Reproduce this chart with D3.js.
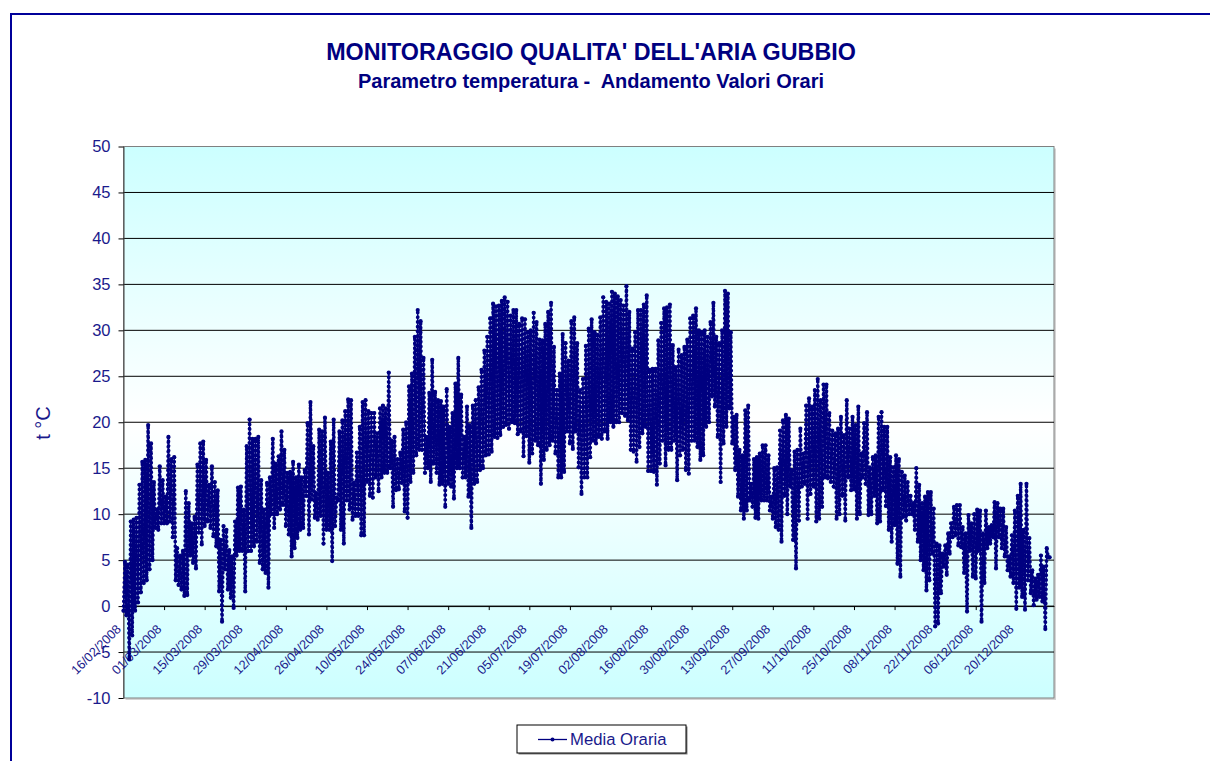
<!DOCTYPE html>
<html>
<head>
<meta charset="utf-8">
<script src="https://cdn.jsdelivr.net/npm/d3@7"></script>
<style>
  html, body { margin: 0; padding: 0; background: #fff; overflow: hidden; }
  text { font-family: "Liberation Sans", Arial, sans-serif; }
</style>
</head>
<body>
<svg id="grafico" width="1210" height="761"></svg>
<script>
const titolo = "MONITORAGGIO QUALITA' DELL'ARIA GUBBIO";
const sottotitolo = "Parametro temperatura -  Andamento Valori Orari";
const etichettaY = "t °C";
const nomeSerie = "Media Oraria";
const dataInizio = "16/02/2008";
const tickY = [-10, -5, 0, 5, 10, 15, 20, 25, 30, 35, 40, 45, 50];
const tickDate = ["16/02/2008", "01/03/2008", "15/03/2008", "29/03/2008", "12/04/2008", "26/04/2008",
  "10/05/2008", "24/05/2008", "07/06/2008", "21/06/2008", "05/07/2008", "19/07/2008", "02/08/2008",
  "16/08/2008", "30/08/2008", "13/09/2008", "27/09/2008", "11/10/2008", "25/10/2008", "08/11/2008",
  "22/11/2008", "06/12/2008", "20/12/2008"];

// massimi e minimi di ogni giorno (14 giorni per riga)
const massimi = [
  4.8,4.5,9.2,9.4,9.6,13.2,15.7,15.9,19.7,17.7,13.5,10.5,15.2,13.7,
  11.9,18.4,16,16.2,6.3,5.5,6,12.5,11.2,9,9.7,15.4,17.7,17.9,
  15.9,13.2,15.2,13.5,12.6,7.2,8.7,8.3,6.1,5.4,9.2,12.9,13,10.5,
  17.4,20.3,18.2,18.2,18.4,13.7,10.5,13.4,14,18.2,15.5,16.3,19,17,
  14.5,14.6,15.7,14,15.4,14,14.8,19.9,22.2,17.4,12.3,19.2,19,20.5,
  14.5,17.9,20.3,11.8,19,20.2,21.2,22.5,22.4,13.4,16.7,19.5,22.2,22.4,
  21.2,21,21,18.8,21.5,21.8,21.5,25.4,18,18.4,16,16.7,19.2,20,
  23.9,25.3,29.3,32.2,31,27,18.4,23.2,26.8,23.3,22.4,22.3,21.7,23.6,
  19.5,21,24.2,27,23,18.4,21.7,19.7,21.8,22.4,23.8,25.7,27.8,29.3,
  31.3,32.9,32.6,32.7,33.2,33.6,33.1,31.6,32.2,32.2,30.7,31.3,31.2,29.8,
  30,31.9,30.9,29,28.9,30.7,32,33,28.2,23.5,25.3,29.6,28.6,26.7,
  31,31.4,28.6,23.5,24.7,28.3,30.2,31.2,29.8,29.5,31.4,33.6,33.1,32.9,
  34.2,34,33.7,33.3,32.7,34.8,32,28,29.8,32.2,32.2,32.8,33.8,25.7,
  25.8,25.8,28.9,30.8,32.4,32.5,32.8,28.4,26,27.9,27.3,28.2,29,31.3,
  31.6,32.4,30,29.8,30,29.3,30.9,33,29.3,28.6,30,34.3,34,29.8,
  20.6,20.8,17,16.4,21.3,21.8,13.3,16,16.2,16.6,17.5,17.5,16.4,11.9,
  15,15.1,19.1,20.2,20.8,20.4,14.8,16.8,17,19.3,16.6,21.8,22.6,21.7,
  23.5,24.7,22.4,24.1,24.1,21,19.1,18.8,19.3,20.6,18.6,22.4,19.3,20.6,
  19.7,21.7,16.6,19.9,21.1,15.1,16.2,16.4,20.6,21.1,19.5,19.5,16.2,15.1,
  16.4,16,14.6,14.2,13.5,12,11.2,15,13.2,11.2,11.9,12.4,12.4,10.6,
  6.8,6.6,5.7,6.6,7.9,9,10.8,11,11,8.6,7.9,9.9,9,10,
  10.5,10.4,7.9,10.4,8.6,8.8,11.3,11.2,10.6,10.6,8.6,5.4,7.7,10.4,
  12,13.3,8.3,13.3,7.4,3.9,3,3.4,5.5,4.3,6.3,5.3
];
const minimi = [
  -0.5,-1,-5.8,-3.2,-0.5,0.4,1.5,2.5,2.8,4,5,8.5,8.3,9,
  9,9,9.2,7.5,2.8,2.3,1.8,1.1,1.2,5.5,4.7,4.1,8,6.7,
  8.7,9.2,8.5,7.6,6.5,1.6,-1.7,4,1.8,0.9,-0.2,5.5,6,6,
  1.6,6,6,6.5,7,4.7,4,3.6,2,10,8.5,10,10.5,11,
  8.7,7.8,5.4,6.3,7.4,8.3,8.5,12,7.8,11.6,9.6,9.4,9.8,6.8,
  8.3,8.3,4.9,8.7,11.5,8.3,6.8,11.5,10.5,9.4,9.8,9.8,7.7,7.7,
  13.5,12,11.8,14,12.5,14,14.5,14.5,15,10.8,12.6,12.7,13.4,10.3,
  9.6,13.5,14.5,16.4,17,17,14.5,15,13.5,15.5,14.5,13.2,13.3,10.8,
  13.3,13,11.7,15,15,14,14,11.9,8.5,13.3,13.5,14.8,15,16.4,
  16.5,16.8,18.4,18.3,18.6,19.5,19.7,19.3,20,19.9,18.7,19,16.3,18.5,
  15.6,16.6,18,17.5,13.3,15.9,17,17.5,18,16.6,14,14,14.6,19,
  17.7,17.1,19,15.1,12.2,14,14,16.2,18,17.7,18.4,18.2,19,18.2,
  20,19.5,20,20,21,20.7,20.2,17,16.8,15.7,17.3,18.8,19.5,14.7,
  14.7,14.6,13.2,15.5,18,15.3,17,17,18,13.7,16.4,17,14.8,14.4,
  18,18,17.3,15.9,16.4,19.5,20,22.8,21.7,18.4,13.5,17.7,19.5,21.5,
  17.7,14.8,11.9,10.4,9.5,10.4,11.5,10.8,9.6,9.5,11.5,11.5,11.5,10.4,
  9.5,8.6,8.3,7,12,10,13,7.2,4.1,9.3,13,13.3,9.5,12.2,
  13,9.2,9.5,10.8,14,13.9,13.5,13,9.5,10,12,9.3,14,12.6,
  12.7,9.5,10,14,13.3,9.9,10,12,9,9.2,12.6,10.9,8.3,7,
  8.8,4.6,3.2,9.7,9.3,10,10,8.3,7,5,3.9,1.7,2.8,5.7,
  -2.2,-1.9,1.4,4.3,3.4,5.7,7.5,7.7,6.6,6.4,3.6,-0.6,6,3.2,
  3,6,-1.7,2.5,6.3,6.8,7.5,4.1,7.5,6.3,5.4,3.9,3.2,2.5,
  -0.3,2,1,-0.4,2.8,1.4,0.1,0.7,1,0.5,-2.5,5.3
];

const blu = "#000080";
const bluTesto = "#1a1a8c";
const svg = d3.select("#grafico");
const area = { x0: 123.5, x1: 1054, y0: 146.5, y1: 698 };
const parseData = d3.utcParse("%d/%m/%Y");
const inizio = parseData(dataInizio);
const GIORNO = 86400000;

const x = d3.scaleUtc()
  .domain([inizio, new Date(+inizio + 321 * GIORNO)])
  .range([area.x0, area.x1]);
const y = d3.scaleLinear().domain([-10, 50]).range([area.y1, area.y0]);

// ogni giorno: minimo e poi massimo
const punti = [];
massimi.forEach((m, i) => {
  punti.push({ t: new Date(+inizio + i * GIORNO), v: minimi[i] });
  punti.push({ t: new Date(+inizio + (i + 0.5) * GIORNO), v: m });
});

// cornice esterna
svg.append("rect")
  .attr("x", 11).attr("y", 14)
  .attr("width", 1300).attr("height", 900)
  .attr("fill", "#fff").attr("stroke", "#000099").attr("stroke-width", 2);

// sfondo a gradiente
const defs = svg.append("defs");
const grad = defs.append("linearGradient")
  .attr("id", "sfondo").attr("x1", 0).attr("x2", 0).attr("y1", 0).attr("y2", 1);
grad.append("stop").attr("offset", "0%").attr("stop-color", "#ccffff");
grad.append("stop").attr("offset", "50%").attr("stop-color", "#ffffff");
grad.append("stop").attr("offset", "100%").attr("stop-color", "#ccffff");

svg.append("rect")
  .attr("x", area.x0 + 2).attr("y", area.y0 + 2)
  .attr("width", area.x1 - area.x0).attr("height", area.y1 - area.y0)
  .attr("fill", "#d4d4d4");
svg.append("rect")
  .attr("x", area.x0).attr("y", area.y0)
  .attr("width", area.x1 - area.x0).attr("height", area.y1 - area.y0)
  .attr("fill", "url(#sfondo)")
  .attr("stroke", "#808080").attr("stroke-width", 1);

// griglia
svg.append("g").selectAll("line")
  .data(tickY.filter(d => d > -10 && d < 50))
  .join("line")
  .attr("x1", area.x0).attr("x2", area.x1)
  .attr("y1", d => y(d)).attr("y2", d => y(d))
  .attr("stroke", "#000").attr("stroke-width", 1);

// asse y
const assey = svg.append("g")
  .attr("transform", `translate(${area.x0},0)`)
  .call(d3.axisLeft(y).tickValues(tickY).tickSize(5).tickSizeOuter(0).tickPadding(8)
    .tickFormat(d => String(d)));
assey.select(".domain").attr("stroke", "#404040");
assey.selectAll("text").attr("font-size", 16.5).attr("fill", bluTesto)
  .attr("font-family", "Liberation Sans, Arial, sans-serif");

// asse x sullo zero
const assex = svg.append("g")
  .attr("transform", `translate(0,${y(0)})`)
  .call(d3.axisBottom(x).tickValues(tickDate.map(parseData)).tickSize(4).tickSizeOuter(0)
    .tickFormat(d3.utcFormat("%d/%m/%Y")));
assex.select(".domain").attr("stroke", "#000");
assex.selectAll("text")
  .attr("font-size", 12.8).attr("fill", bluTesto)
  .attr("font-family", "Liberation Sans, Arial, sans-serif")
  .attr("text-anchor", "end")
  .attr("dy", 0)
  .attr("transform", "translate(-5,21) rotate(-45)")
  .attr("y", 4).attr("x", 0);

// serie
const linea = d3.line().x(d => x(d.t)).y(d => y(d.v));
const serie = svg.append("g");
serie.append("path")
  .datum(punti)
  .attr("d", linea)
  .attr("fill", "none")
  .attr("stroke", blu)
  .attr("stroke-width", 1.3);
serie.append("path")
  .datum(punti)
  .attr("d", linea)
  .attr("fill", "none")
  .attr("stroke", blu)
  .attr("stroke-width", 3.7)
  .attr("stroke-linecap", "round")
  .attr("stroke-dasharray", "0 4.7");
serie.selectAll("circle")
  .data(punti)
  .join("circle")
  .attr("cx", d => x(d.t)).attr("cy", d => y(d.v))
  .attr("r", 2.1).attr("fill", blu);

// titoli
svg.append("text").attr("x", 591).attr("y", 60)
  .attr("text-anchor", "middle").attr("font-size", 23.3).attr("font-weight", "bold")
  .attr("fill", blu).text(titolo);
svg.append("text").attr("x", 591).attr("y", 88)
  .attr("text-anchor", "middle").attr("font-size", 20).attr("font-weight", "bold")
  .attr("fill", blu).style("white-space", "pre").text(sottotitolo);
svg.append("text")
  .attr("transform", "translate(50,423) rotate(-90)")
  .attr("text-anchor", "middle").attr("font-size", 20)
  .attr("fill", bluTesto).text(etichettaY);

// legenda
const leg = svg.append("g").attr("transform", "translate(517,725)");
leg.append("rect").attr("x", 1.5).attr("y", 1.5).attr("width", 169).attr("height", 28).attr("fill", "#808080");
leg.append("rect").attr("x", 0).attr("y", 0).attr("width", 169).attr("height", 28)
  .attr("fill", "#fff").attr("stroke", "#000");
leg.append("line").attr("x1", 21).attr("x2", 50).attr("y1", 14.5).attr("y2", 14.5)
  .attr("stroke", blu).attr("stroke-width", 1.3);
leg.append("circle").attr("cx", 35.5).attr("cy", 14.5).attr("r", 2).attr("fill", blu);
leg.append("text").attr("x", 53).attr("y", 20).attr("font-size", 16.7).attr("fill", bluTesto).text(nomeSerie);
</script>
</body>
</html>
